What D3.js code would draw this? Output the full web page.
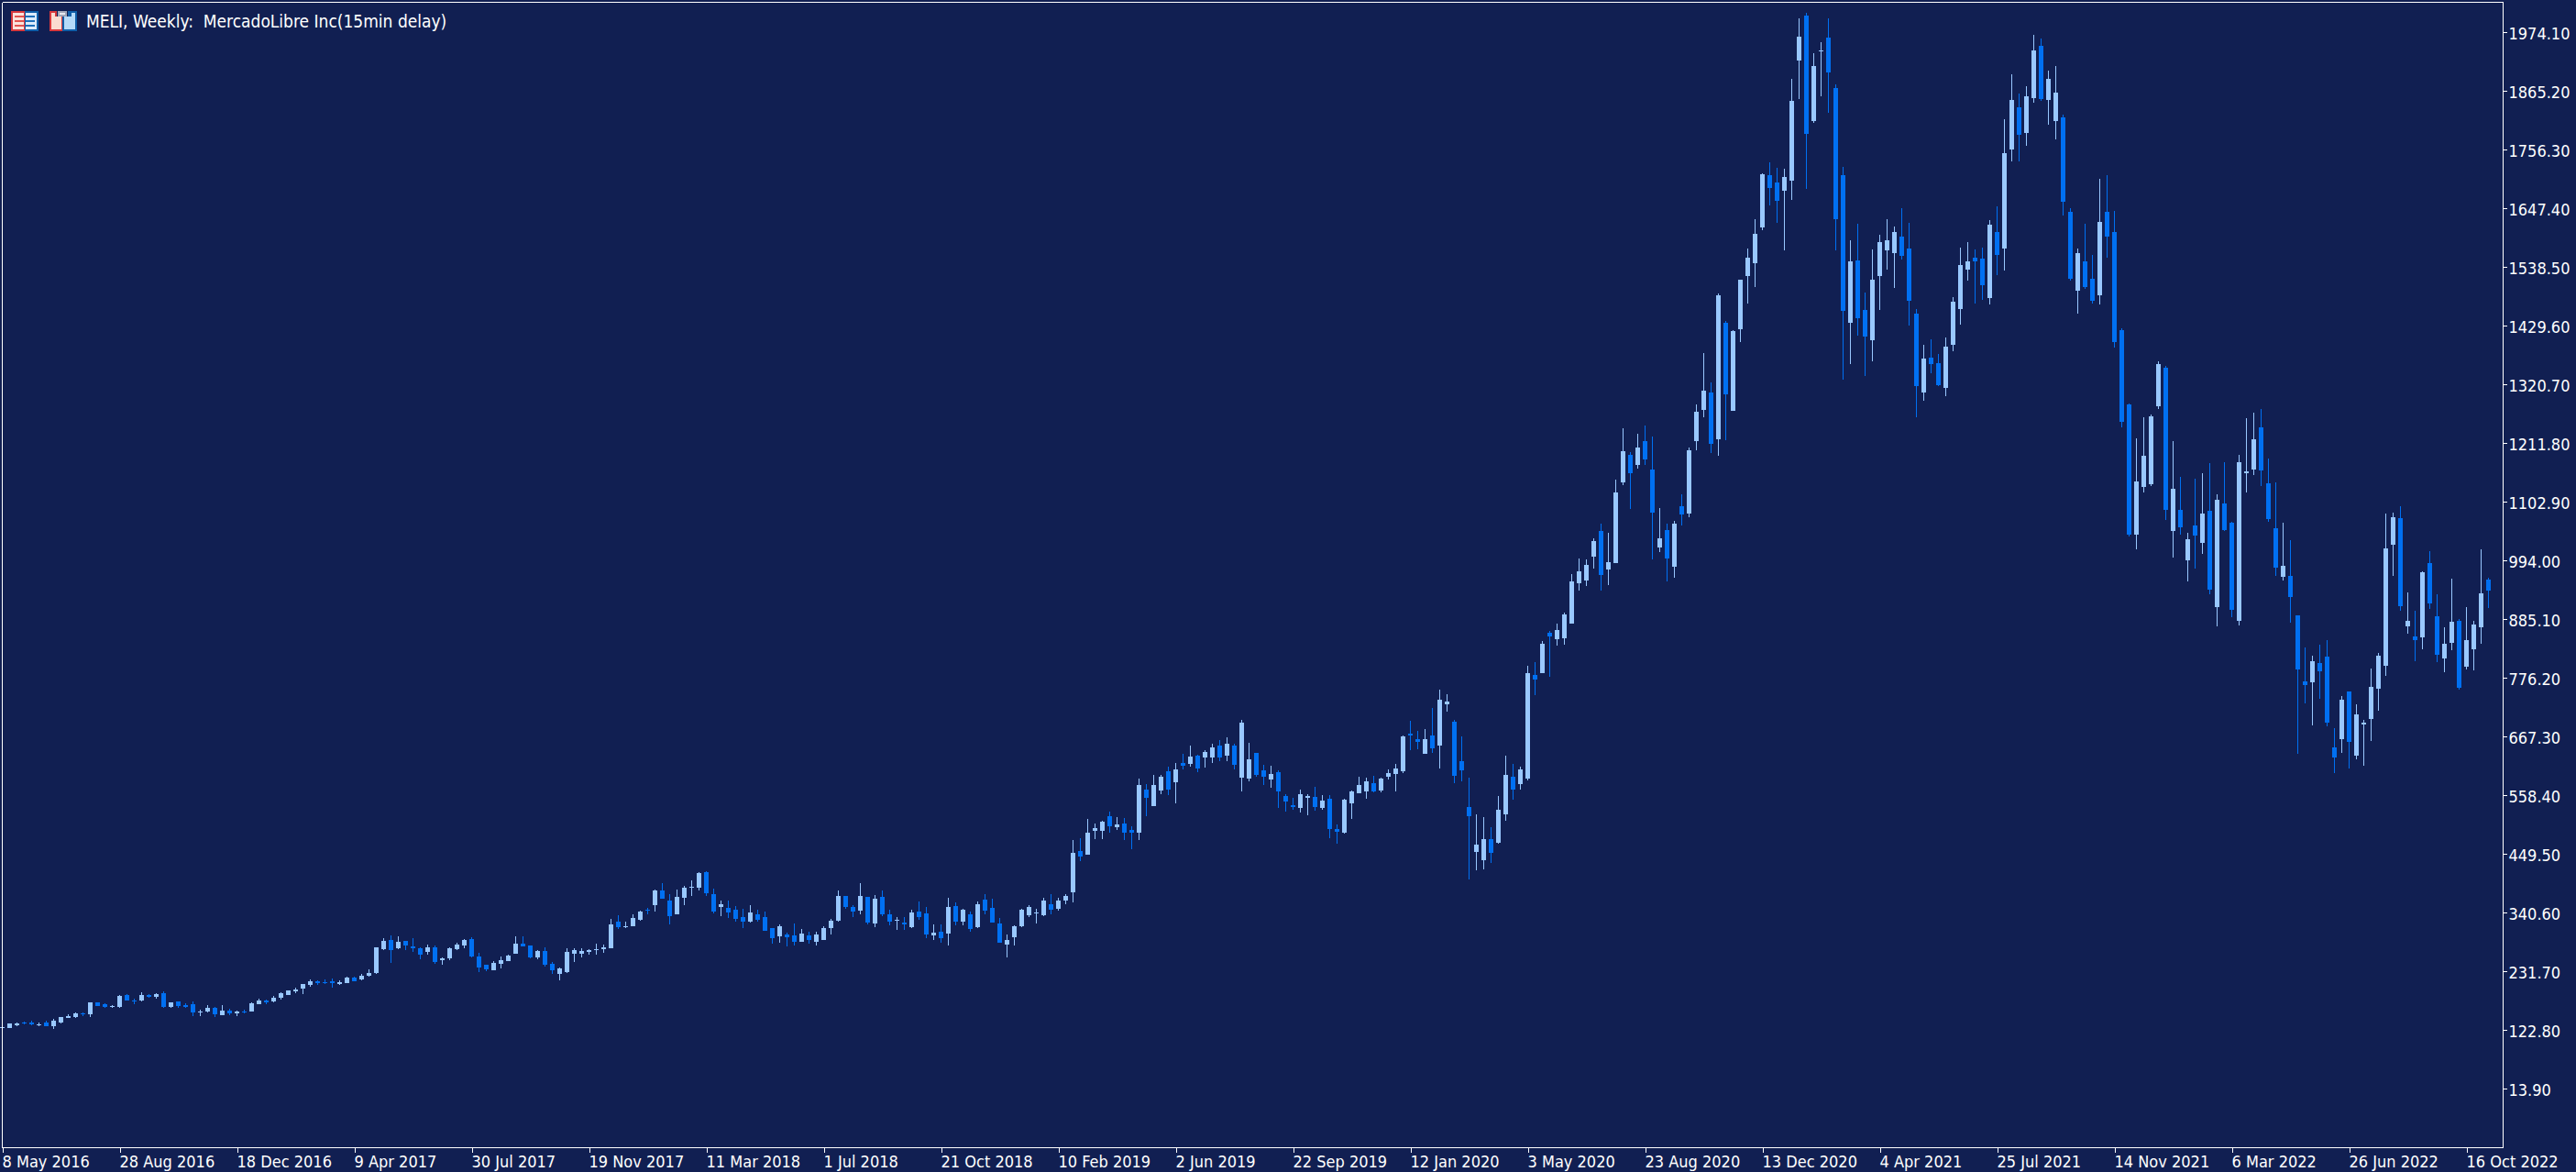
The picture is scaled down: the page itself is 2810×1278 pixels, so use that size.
<!DOCTYPE html>
<html>
<head>
<meta charset="utf-8">
<title>MELI, Weekly</title>
<script src="https://cdn.jsdelivr.net/npm/d3@7/dist/d3.min.js"></script>
<style>
  html, body { margin: 0; padding: 0; background: #111F52; }
  svg { display: block; }
  text { font-family: "DejaVu Sans Condensed", "DejaVu Sans", sans-serif; fill: #fff; }
</style>
</head>
<body>
<svg id="chart" width="2810" height="1278"></svg>
<script>
// Weekly MELI candles, ten bars per row
const open = [
126.1,126.1,131.2,136.4,136.4,131.8,136.4,129.5,136.4,144.9,
146.6,153.4,151.7,173.2,170.4,165.3,165.3,187.4,177.2,177.2,
187.4,184.0,190.8,165.3,175.5,168.7,170.4,155.1,156.8,163.6,
150.0,158.5,153.4,156.8,156.8,170.4,177.2,175.5,182.3,187.4,
194.2,199.3,206.1,212.9,211.2,212.9,207.8,209.5,219.7,216.3,
223.1,228.2,272.5,289.5,274.2,287.8,277.6,274.2,267.4,275.9,
252.1,255.5,272.5,279.3,291.2,258.9,243.6,233.3,245.3,250.4,
264.0,282.7,279.3,257.2,269.1,245.3,226.6,230.0,264.0,264.0,
267.4,270.8,272.5,274.2,323.6,313.4,315.0,327.0,345.7,354.2,
381.4,362.7,337.2,367.8,386.5,386.5,415.4,374.6,350.8,349.1,
345.7,332.1,323.6,337.2,332.1,311.7,296.3,299.7,298.0,286.1,
298.0,286.1,289.5,311.7,325.3,371.2,350.8,344.0,369.5,320.2,
369.5,337.2,325.3,321.9,313.4,342.3,338.9,298.0,304.8,301.4,
352.5,323.6,337.2,313.4,364.4,349.1,320.2,281.0,294.6,315.0,
335.5,338.9,335.5,355.9,347.4,362.7,378.0,454.6,447.8,492.0,
492.0,519.2,498.8,505.6,493.7,488.6,568.6,537.9,566.9,602.6,
582.2,617.9,616.2,631.5,628.1,628.1,650.3,631.5,650.3,590.7,
589.0,636.6,604.3,587.3,600.9,556.7,539.6,534.5,553.3,555.0,
534.5,551.6,495.4,488.6,543.0,561.8,565.2,580.5,566.9,592.4,
597.5,602.6,672.4,662.2,634.9,669.0,650.3,726.8,694.5,621.3,
536.2,452.9,437.6,476.7,469.9,522.6,592.4,578.8,589.0,781.3,
784.7,859.6,847.6,849.4,876.6,951.4,956.5,1000.8,1048.4,977.0,
988.9,1138.6,1189.7,1170.9,1215.2,1162.4,1017.8,1050.1,982.1,1094.4,
1080.8,1215.2,1273.0,1305.4,1218.6,1434.7,1271.3,1422.8,1521.5,1545.3,
1611.7,1708.6,1695.0,1679.7,1698.4,1921.3,2004.7,1809.0,1938.4,1963.9,
1870.3,1708.6,1434.7,1550.4,1458.5,1402.4,1521.5,1569.1,1564.0,1594.7,
1572.5,1451.7,1305.4,1370.0,1359.8,1313.9,1393.9,1460.2,1533.4,1555.5,
1553.8,1480.6,1603.2,1572.5,1756.3,1834.6,1786.9,1851.6,1948.6,1848.2,
1809.0,1815.9,1640.6,1494.2,1548.7,1516.4,1485.7,1640.6,1603.2,1421.1,
1283.3,1041.6,1130.1,1135.2,1279.8,1351.3,1048.4,1087.6,994.0,1058.6,
1026.3,1085.9,907.2,1099.5,1063.7,881.7,1155.6,1162.4,1240.7,1136.9,
1053.5,963.4,965.1,891.9,769.4,767.7,803.4,815.3,646.9,662.2,
750.7,631.5,689.4,699.6,755.8,798.3,1022.9,1072.3,871.5,852.8,
851.1,988.9,890.2,811.9,840.8,881.7,796.6,828.9,869.8,958.2];

const high = [
127.8,134.1,136.4,138.1,139.2,136.4,139.2,143.2,146.6,151.7,
154.5,155.6,173.2,173.2,172.1,168.7,186.8,189.1,180.6,192.5,
189.1,190.8,194.2,173.8,175.5,172.1,175.5,160.2,168.7,165.3,
168.7,161.9,158.5,160.2,173.2,180.6,178.9,185.7,192.5,195.9,
201.0,207.8,216.3,214.6,216.3,218.0,214.6,221.4,221.4,226.5,
235.0,275.9,292.9,298.0,296.3,287.8,292.9,275.9,281.0,279.3,
257.2,275.9,284.4,291.2,294.6,265.7,243.6,250.4,258.9,262.3,
296.3,296.3,279.3,270.8,275.9,248.7,238.5,274.2,274.2,274.2,
272.5,282.7,281.0,328.7,335.5,323.6,337.2,344.0,349.1,383.1,
395.0,374.6,383.1,389.9,400.1,415.4,417.1,384.8,362.7,362.7,
352.5,347.4,354.2,345.7,342.3,311.7,318.5,303.1,320.2,310.0,
304.8,304.8,315.0,328.7,381.4,371.2,354.2,395.0,369.5,372.9,
381.4,345.7,332.1,332.1,345.7,361.0,350.8,318.5,318.5,367.8,
359.3,347.4,342.3,361.0,374.6,366.1,330.4,299.7,316.8,347.4,
354.2,347.4,367.8,374.6,367.8,374.6,475.0,478.4,514.1,505.6,
510.7,527.7,517.5,515.8,500.5,589.0,578.8,595.8,595.8,611.1,
617.9,634.9,650.3,633.2,641.7,653.7,660.5,665.6,653.7,697.9,
655.4,636.6,614.5,612.8,604.3,560.1,553.3,568.6,560.1,573.7,
558.4,558.4,503.9,551.6,566.9,592.4,590.7,594.1,590.7,606.0,
616.2,669.0,696.2,677.5,680.9,720.0,754.0,745.5,697.9,667.3,
590.7,522.6,517.5,498.8,556.7,631.5,616.2,611.1,798.3,805.1,
844.2,863.0,876.6,897.0,968.5,997.4,995.7,1034.8,1062.0,1045.0,
1143.7,1239.0,1194.8,1228.8,1244.1,1223.7,1091.0,1062.0,1067.1,1116.5,
1203.3,1283.3,1378.5,1324.1,1489.2,1438.1,1421.1,1514.7,1572.5,1627.0,
1712.0,1732.5,1722.3,1720.6,1887.3,1999.6,2009.8,1935.0,1955.4,1999.6,
1877.1,1723.9,1587.8,1618.5,1490.9,1570.8,1598.0,1627.0,1613.4,1647.4,
1620.2,1460.2,1393.9,1404.1,1376.8,1407.5,1482.3,1574.2,1584.4,1570.8,
1574.2,1625.3,1650.8,1812.5,1895.8,1860.1,1873.7,1969.0,1962.2,1902.6,
1911.1,1821.0,1647.4,1572.5,1618.5,1560.6,1701.8,1708.6,1642.3,1424.5,
1285.0,1220.3,1259.4,1264.5,1363.2,1354.7,1215.2,1148.8,1045.0,1145.4,
1155.6,1174.4,1116.5,1176.1,1065.4,1189.7,1257.7,1267.9,1274.7,1182.9,
1138.6,1063.7,1031.4,891.9,832.3,817.0,837.4,846.0,682.6,742.2,
750.7,726.8,697.9,793.2,822.1,1080.8,1082.5,1094.4,934.4,900.4,
973.6,1011.0,931.0,869.8,959.9,885.1,907.2,881.7,1014.4,961.6];

const low = [
126.1,126.1,129.5,133.0,131.8,129.5,129.5,124.4,135.2,144.9,
145.4,148.3,146.6,167.0,163.6,163.6,163.6,177.2,170.4,175.5,
182.3,180.6,163.6,163.6,163.6,163.6,148.3,148.3,155.1,146.6,
150.0,150.0,148.3,153.4,156.8,170.4,170.4,173.8,178.9,187.4,
190.8,189.1,202.7,206.1,207.8,201.0,206.1,209.5,212.9,214.6,
221.4,226.5,270.8,247.0,272.5,270.8,267.4,253.8,262.3,245.3,
243.6,252.1,270.8,274.2,257.2,229.9,231.6,233.3,236.8,250.4,
264.0,277.6,255.5,253.8,240.2,226.6,214.6,228.3,248.7,257.2,
262.3,262.3,265.7,274.2,310.0,311.7,315.0,325.3,337.2,342.3,
366.1,318.5,337.2,354.2,371.2,381.4,371.2,338.9,333.8,330.4,
323.6,311.7,321.9,323.6,306.5,282.7,284.4,277.6,279.3,286.1,
282.7,279.3,289.5,299.7,323.6,347.4,332.1,337.2,318.5,313.4,
333.8,316.8,308.2,308.2,311.7,327.0,292.9,289.5,284.4,279.3,
316.8,316.8,304.8,311.7,337.2,321.9,284.4,257.2,279.3,313.4,
332.1,320.2,333.8,337.2,344.0,355.9,359.3,435.9,447.8,476.7,
476.7,488.6,493.7,475.0,458.0,475.0,519.2,537.9,560.1,558.4,
543.0,606.0,611.1,600.9,609.4,617.9,621.3,621.3,606.0,565.2,
583.9,592.4,577.1,572.0,534.5,527.7,531.1,526.0,520.9,529.4,
531.1,478.4,468.2,486.9,514.1,561.8,551.6,563.5,563.5,587.3,
565.2,599.2,641.7,643.4,634.9,636.6,607.7,713.2,580.5,583.9,
401.8,418.8,420.5,432.4,468.2,510.7,549.9,568.6,585.6,743.8,
784.7,777.9,835.7,837.4,876.6,937.8,946.3,978.7,937.8,948.0,
988.9,1133.5,1089.3,1164.1,1170.9,995.7,1009.3,954.8,961.7,1058.6,
1074.0,1198.2,1259.4,1193.1,1188.0,1216.9,1271.3,1399.0,1470.4,1501.1,
1606.6,1652.5,1620.2,1569.1,1662.7,1849.9,1683.1,1805.6,1855.0,1824.4,
1569.1,1329.2,1358.1,1410.9,1336.0,1363.2,1458.5,1533.4,1499.4,1552.1,
1429.6,1259.4,1290.1,1341.1,1317.3,1298.6,1382.0,1431.3,1513.0,1470.4,
1477.2,1468.7,1523.2,1531.7,1734.2,1734.2,1763.1,1843.1,1846.5,1802.2,
1775.0,1633.8,1513.0,1451.7,1497.7,1470.4,1468.7,1555.5,1388.7,1240.7,
1038.2,1014.4,1119.9,1131.8,1274.7,1068.9,999.1,1041.6,954.8,978.7,
1005.9,931.0,872.0,1048.4,888.5,873.2,1119.9,1152.2,1131.8,1065.4,
965.1,956.6,878.3,635.0,728.5,687.7,737.0,686.0,599.2,636.7,
607.7,624.7,612.8,659.2,714.9,779.6,965.1,900.4,857.9,806.8,
828.9,903.8,805.1,786.4,827.2,754.1,791.5,789.8,839.1,905.5];

const close = [
127.3,134.1,134.7,134.7,133.0,133.5,129.5,139.8,146.6,148.3,
153.4,151.7,173.2,167.0,165.3,167.0,185.7,177.2,175.5,187.4,
184.0,189.1,165.3,173.8,167.0,165.3,155.1,156.8,163.6,151.7,
158.5,153.4,156.8,155.1,172.1,177.2,173.8,182.3,190.8,195.9,
197.6,207.8,212.9,209.5,209.5,209.5,211.2,219.7,212.9,223.1,
228.2,275.9,287.8,270.8,286.1,279.3,274.2,262.3,275.9,248.7,
255.5,274.2,281.0,289.5,258.9,238.5,235.0,247.0,252.1,260.6,
282.7,277.6,257.2,269.1,243.6,233.4,236.8,267.4,270.8,269.1,
270.8,272.5,275.9,318.5,313.4,315.0,330.4,342.3,344.0,381.4,
366.1,333.8,369.5,386.5,388.2,413.7,376.3,342.3,355.9,340.6,
328.7,323.6,340.6,327.0,306.5,292.9,315.0,294.6,286.1,301.4,
289.5,299.7,311.7,325.3,371.2,350.8,342.3,371.2,321.9,366.1,
337.2,323.6,327.0,318.5,340.6,332.1,299.7,303.1,292.9,350.8,
323.6,345.7,310.0,355.9,344.0,321.9,284.4,289.5,315.0,345.7,
350.8,340.6,362.7,345.7,362.7,371.2,451.2,444.4,488.6,497.1,
509.0,500.5,503.9,488.6,488.6,577.1,553.3,577.1,592.4,568.6,
606.0,612.8,629.8,607.7,638.3,646.9,628.1,653.7,614.5,692.8,
624.7,595.8,592.4,597.5,565.2,546.4,536.2,560.1,556.7,536.2,
548.2,495.4,490.3,549.9,565.2,577.1,583.9,565.2,589.0,599.2,
607.7,667.3,669.0,657.1,662.2,645.2,735.3,731.9,594.1,604.3,
519.2,466.5,476.7,451.2,531.1,595.8,568.6,606.0,784.7,772.8,
839.1,852.8,864.7,893.6,954.8,973.6,985.5,1029.7,966.8,990.6,
1119.9,1196.5,1155.6,1203.3,1181.2,1082.5,1034.8,997.4,1062.0,1079.1,
1198.2,1269.6,1308.8,1210.1,1485.8,1302.0,1419.4,1514.7,1555.5,1599.7,
1710.3,1684.8,1661.0,1705.2,1846.5,1965.6,1785.2,1911.1,1940.1,1899.2,
1627.0,1456.8,1548.7,1443.2,1409.2,1514.7,1584.4,1587.8,1603.2,1558.9,
1475.5,1317.3,1368.3,1358.1,1319.0,1390.5,1473.8,1541.9,1548.7,1548.7,
1504.5,1616.8,1560.6,1749.5,1848.2,1783.5,1855.0,1940.1,1849.9,1887.3,
1861.8,1659.3,1516.4,1564.0,1501.1,1475.5,1621.9,1594.6,1398.9,1250.9,
1041.6,1140.3,1188.0,1261.1,1358.1,1087.6,1126.7,1055.2,1033.1,1039.9,
1080.8,939.5,1106.3,1050.1,902.1,1176.1,1159.0,1218.6,1160.7,1070.6,
980.4,983.8,925.9,791.5,762.6,806.8,788.1,692.8,628.1,735.3,
657.1,708.1,692.8,759.2,817.0,1016.1,1074.0,908.9,881.7,846.0,
971.9,914.0,818.7,839.1,880.0,757.5,846.0,874.9,932.7,937.8];

const priceTicks = [13.90,122.80,231.70,340.60,449.50,558.40,667.30,776.20,885.10,994.00,
  1102.90,1211.80,1320.70,1429.60,1538.50,1647.40,1756.30,1865.20,1974.10];

const dateLabels = ["8 May 2016","28 Aug 2016","18 Dec 2016","9 Apr 2017","30 Jul 2017","19 Nov 2017",
  "11 Mar 2018","1 Jul 2018","21 Oct 2018","10 Feb 2019","2 Jun 2019","22 Sep 2019","12 Jan 2020",
  "3 May 2020","23 Aug 2020","13 Dec 2020","4 Apr 2021","25 Jul 2021","14 Nov 2021","6 Mar 2022",
  "26 Jun 2022","16 Oct 2022"];
const barsPerLabel = 16;

const titleText = "MELI, Weekly:  MercadoLibre Inc(15min delay)";

const colors = { up: "#99C8FF", down: "#0070F2", frame: "#FFFFFF" };
const frame = { left: 2, top: 2, right: 2730, bottom: 1251 };
const bodyWidth = 5;

const svg = d3.select("#chart");

const x = d3.scaleLinear().domain([0, open.length - 1]).range([2.5, 2714.5]);
const y = d3.scaleLinear().domain([13.9, 1974.1]).range([1187, 35]);

const bars = d3.range(open.length).map(i => ({
  i, o: open[i], h: high[i], l: low[i], c: close[i], rising: close[i] >= open[i]
}));

// Candles: a one-pixel wick with a body on top of it
const candle = svg.append("g").attr("shape-rendering", "crispEdges")
  .selectAll("g").data(bars).join("g")
  .attr("fill", d => d.rising ? colors.up : colors.down);

candle.append("rect")
  .attr("x", d => x(d.i) - 0.5)
  .attr("width", 1)
  .attr("y", d => Math.round(y(d.h)))
  .attr("height", d => Math.max(1, Math.round(y(d.l)) - Math.round(y(d.h))));

candle.append("rect")
  .attr("x", d => x(d.i) - bodyWidth / 2)
  .attr("width", bodyWidth)
  .attr("y", d => Math.round(y(Math.max(d.o, d.c))))
  .attr("height", d => Math.max(1, Math.round(y(Math.min(d.o, d.c))) - Math.round(y(Math.max(d.o, d.c)))));

// Frame: top and left edges; the right and bottom edges come after the axes
svg.append("g").attr("stroke", colors.frame).attr("shape-rendering", "crispEdges")
  .selectAll("line").data([
    [frame.left, frame.top, frame.right, frame.top],
    [frame.left, frame.top, frame.left, frame.bottom]
  ]).join("line")
  .attr("x1", d => d[0] + 0.5).attr("y1", d => d[1] + 0.5)
  .attr("x2", d => d[2] + 0.5).attr("y2", d => d[3] + 0.5);

const yAxis = d3.axisRight(y).tickValues(priceTicks).tickFormat(d3.format(".2f")).tickSize(4).tickPadding(2);
const xAxis = d3.axisBottom(x)
  .tickValues(dateLabels.map((_, k) => k * barsPerLabel))
  .tickFormat((_, k) => dateLabels[k]).tickSize(4).tickPadding(4);

function styleAxis(g) {
  g.attr("font-size", null).attr("font-family", null);
  g.selectAll("path.domain").remove();
  g.selectAll("line").attr("stroke", colors.frame).attr("shape-rendering", "crispEdges");
  g.selectAll("text").attr("fill", "#fff").style("font-size", "18px");
}

const gy = svg.append("g").attr("transform", `translate(${frame.right + 0.5},0)`).call(yAxis).call(styleAxis);
gy.selectAll("text").attr("dy", "7.5px");
const gx = svg.append("g").attr("transform", `translate(0,${frame.bottom + 0.5})`).call(xAxis).call(styleAxis);
gx.selectAll("text").attr("text-anchor", "start").attr("x", -0.5).attr("y", 9);
gx.selectAll(".tick line").attr("y2", 5);

// Right and bottom frame edges
svg.append("g").attr("stroke", colors.frame).attr("shape-rendering", "crispEdges")
  .selectAll("line").data([
    [frame.right, frame.top, frame.right, frame.bottom],
    [frame.left, frame.bottom, frame.right, frame.bottom]
  ]).join("line")
  .attr("x1", d => d[0] + 0.5).attr("y1", d => d[1] + 0.5)
  .attr("x2", d => d[2] + 0.5).attr("y2", d => d[3] + 0.5);

// Header: the two toolbar glyphs followed by the symbol line
const icons = svg.append("g").attr("shape-rendering", "crispEdges");
function box(px, py, w, h, fill) {
  icons.append("rect").attr("x", px).attr("y", py).attr("width", w).attr("height", h).attr("fill", fill);
}
// Table glyph
box(12, 12, 15, 22, "#D8383C"); box(27, 12, 15, 22, "#0F5EA8");
box(14, 14, 12, 18, "#FBE3DC"); box(28, 14, 12, 18, "#DCEBFA");
[17, 22, 27].forEach(r => { box(16, r, 10, 2, "#E2544F"); box(28, r, 10, 2, "#1E6FB8"); });
// Disk glyph
box(54, 12, 14, 22, "#D8383C"); box(68, 12, 16, 22, "#0F5EA8");
box(56, 18, 11, 14, "#FBDCD0"); box(70, 18, 12, 14, "#B5DAF8");
box(62, 12, 12, 6, "#111F52");
box(63, 12, 10, 6, "#A0A6B8"); box(65, 14, 6, 2, "#E8EAF0");
box(60, 18, 7, 3, "#FBDCD0");
box(56, 14, 4, 4, "#FBDCD0"); box(78, 14, 4, 4, "#B5DAF8");

svg.append("text").attr("x", 94).attr("y", 30).style("font-size", "19px")
  .style("white-space", "pre").text(titleText);
</script>
</body>
</html>
